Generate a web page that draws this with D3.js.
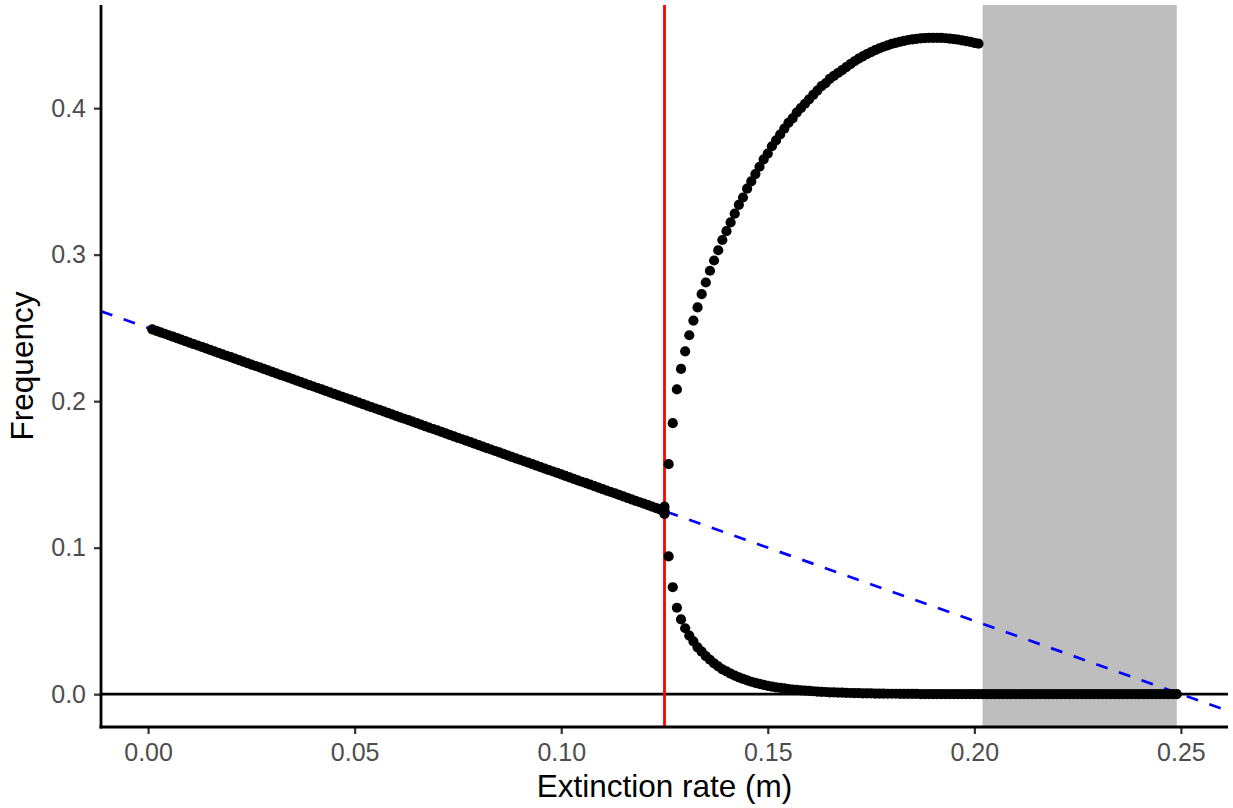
<!DOCTYPE html>
<html>
<head>
<meta charset="utf-8">
<script src="https://cdn.jsdelivr.net/npm/d3@7"></script>
<style>
  html, body { margin: 0; padding: 0; background: #ffffff; }
  svg { display: block; }
</style>
</head>
<body>
<svg id="chart" width="1233" height="808"></svg>
<script>
// ---------------- data ----------------
const linM = [
0.001,0.002,0.003,0.004,0.005,0.006,0.007,0.008,0.009,0.010,
0.011,0.012,0.013,0.014,0.015,0.016,0.017,0.018,0.019,0.020,
0.021,0.022,0.023,0.024,0.025,0.026,0.027,0.028,0.029,0.030,
0.031,0.032,0.033,0.034,0.035,0.036,0.037,0.038,0.039,0.040,
0.041,0.042,0.043,0.044,0.045,0.046,0.047,0.048,0.049,0.050,
0.051,0.052,0.053,0.054,0.055,0.056,0.057,0.058,0.059,0.060,
0.061,0.062,0.063,0.064,0.065,0.066,0.067,0.068,0.069,0.070,
0.071,0.072,0.073,0.074,0.075,0.076,0.077,0.078,0.079,0.080,
0.081,0.082,0.083,0.084,0.085,0.086,0.087,0.088,0.089,0.090,
0.091,0.092,0.093,0.094,0.095,0.096,0.097,0.098,0.099,0.100,
0.101,0.102,0.103,0.104,0.105,0.106,0.107,0.108,0.109,0.110,
0.111,0.112,0.113,0.114,0.115,0.116,0.117,0.118,0.119,0.120,
0.121,0.122,0.123,0.124,0.125];
const linFreq = [
0.249,0.248,0.247,0.246,0.245,0.244,0.243,0.242,0.241,0.240,
0.239,0.238,0.237,0.236,0.235,0.234,0.233,0.232,0.231,0.230,
0.229,0.228,0.227,0.226,0.225,0.224,0.223,0.222,0.221,0.220,
0.219,0.218,0.217,0.216,0.215,0.214,0.213,0.212,0.211,0.210,
0.209,0.208,0.207,0.206,0.205,0.204,0.203,0.202,0.201,0.200,
0.199,0.198,0.197,0.196,0.195,0.194,0.193,0.192,0.191,0.190,
0.189,0.188,0.187,0.186,0.185,0.184,0.183,0.182,0.181,0.180,
0.179,0.178,0.177,0.176,0.175,0.174,0.173,0.172,0.171,0.170,
0.169,0.168,0.167,0.166,0.165,0.164,0.163,0.162,0.161,0.160,
0.159,0.158,0.157,0.156,0.155,0.154,0.153,0.152,0.151,0.150,
0.149,0.148,0.147,0.146,0.145,0.144,0.143,0.142,0.141,0.140,
0.139,0.138,0.137,0.136,0.135,0.134,0.133,0.132,0.131,0.130,
0.129,0.128,0.127,0.126,0.125];

const upperM = [
0.125,
0.126,0.127,0.128,0.129,0.130,0.131,0.132,0.133,0.134,0.135,
0.136,0.137,0.138,0.139,0.140,0.141,0.142,0.143,0.144,0.145,
0.146,0.147,0.148,0.149,0.150,0.151,0.152,0.153,0.154,0.155,
0.156,0.157,0.158,0.159,0.160,0.161,0.162,0.163,0.164,0.165,
0.166,0.167,0.168,0.169,0.170,0.171,0.172,0.173,0.174,0.175,
0.176,0.177,0.178,0.179,0.180,0.181,0.182,0.183,0.184,0.185,
0.186,0.187,0.188,0.189,0.190,0.191,0.192,0.193,0.194,0.195,
0.196,0.197,0.198,0.199,0.200,0.201];
const upperFreq = [
0.128,
0.157,0.185,0.208,0.222,0.234,0.245,0.255,0.264,0.273,0.281,
0.289,0.296,0.303,0.310,0.316,0.322,0.328,0.334,0.339,0.345,
0.350,0.355,0.360,0.365,0.369,0.374,0.378,0.382,0.386,0.390,
0.393,0.397,0.400,0.403,0.406,0.409,0.412,0.415,0.417,0.420,
0.422,0.424,0.426,0.428,0.430,0.432,0.4338,0.4354,0.4369,0.4383,
0.4396,0.4408,0.4419,0.4429,0.4438,0.4446,0.4453,0.4459,0.4465,0.4469,
0.4473,0.4476,0.4478,0.448,0.448,0.448,0.4479,0.4477,0.4474,0.4471,
0.4467,0.4462,0.4457,0.4452,0.4446,0.444];

const lowerM = [
0.125,
0.126,0.127,0.128,0.129,0.130,0.131,0.132,0.133,0.134,0.135,
0.136,0.137,0.138,0.139,0.140,0.141,0.142,0.143,0.144,0.145,
0.146,0.147,0.148,0.149,0.150,0.151,0.152,0.153,0.154,0.155,
0.156,0.157,0.158,0.159,0.160,0.161,0.162,0.163,0.164,0.165,
0.166,0.167,0.168,0.169,0.170,0.171,0.172,0.173,0.174,0.175,
0.176,0.177,0.178,0.179,0.180,0.181,0.182,0.183,0.184,0.185,
0.186,0.187,0.188,0.189,0.190,0.191,0.192,0.193,0.194,0.195,
0.196,0.197,0.198,0.199,0.200,
0.201,0.202,0.203,0.204,0.205,0.206,0.207,0.208,0.209,0.210,
0.211,0.212,0.213,0.214,0.215,0.216,0.217,0.218,0.219,0.220,
0.221,0.222,0.223,0.224,0.225,0.226,0.227,0.228,0.229,0.230,
0.231,0.232,0.233,0.234,0.235,0.236,0.237,0.238,0.239,0.240,
0.241,0.242,0.243,0.244,0.245,0.246,0.247,0.248,0.249];
const lowerFreq = [
0.123,
0.094,0.073,0.059,0.051,0.045,0.040,0.036,0.032,0.029,0.026,
0.0235,0.021,0.019,0.017,0.0155,0.014,0.0127,0.0115,0.0104,0.0094,
0.0085,0.0077,0.0070,0.0063,0.0057,0.0052,0.0047,0.0043,0.0039,0.0035,
0.0032,0.0029,0.0026,0.0024,0.0022,0.0020,0.0018,0.0016,0.0015,0.0013,
0.0012,0.0011,0.0010,0.0009,0.0008,0.0007,0.0007,0.0006,0.0005,0.0005,
0.0004,0.0004,0.0004,0.0003,0.0003,0.0003,0.0002,0.0002,0.0002,0.0002,
0.0002,0.0001,0.0001,0.0001,0.0001,0.0001,0.0001,0.0001,0.0001,0.0001,
0.0001,0.0001,0.0001,0.0001,0.0001,
0,0,0,0,0,0,0,0,0,0,
0,0,0,0,0,0,0,0,0,0,
0,0,0,0,0,0,0,0,0,0,
0,0,0,0,0,0,0,0,0,0,
0,0,0,0,0,0,0,0,0];

const threshold = 0.125;            // red vertical line
const shadeRange = [0.202, 0.249];  // grey band
const ablineIntercept = 0.25;       // blue dashed line
const ablineSlope = -1;
const hlineValue = 0;

const xTicks = [0, 0.05, 0.10, 0.15, 0.20, 0.25];
const xTickLabels = ["0.00", "0.05", "0.10", "0.15", "0.20", "0.25"];
const yTicks = [0, 0.1, 0.2, 0.3, 0.4];
const yTickLabels = ["0.0", "0.1", "0.2", "0.3", "0.4"];
const xTitle = "Extinction rate (m)";
const yTitle = "Frequency";

// ---------------- chart ----------------
const svg = d3.select("#chart");
const panel = { left: 101, right: 1228, top: 5, bottom: 727 };
const FONT = "'Liberation Sans', Arial, Helvetica, sans-serif";

const points = [];
linM.forEach((m, i) => points.push({ m, f: linFreq[i] }));
upperM.forEach((m, i) => points.push({ m, f: upperFreq[i] }));
lowerM.forEach((m, i) => points.push({ m, f: lowerFreq[i] }));

const xExt = d3.extent(points, d => d.m);
const yExt = d3.extent(points, d => d.f);
const xPad = (xExt[1] - xExt[0]) * 0.05;
const yPad = (yExt[1] - yExt[0]) * 0.05;

const x = d3.scaleLinear().domain([xExt[0] - xPad, xExt[1] + xPad]).range([panel.left, panel.right]);
const y = d3.scaleLinear().domain([yExt[0] - yPad, yExt[1] + yPad]).range([panel.bottom, panel.top]);

svg.append("defs").append("clipPath").attr("id", "clip")
  .append("rect")
  .attr("x", panel.left).attr("y", panel.top)
  .attr("width", panel.right - panel.left).attr("height", panel.bottom - panel.top);

const plot = svg.append("g").attr("clip-path", "url(#clip)");

// grey band
plot.append("rect")
  .attr("x", x(shadeRange[0]))
  .attr("width", x(shadeRange[1]) - x(shadeRange[0]))
  .attr("y", panel.top)
  .attr("height", panel.bottom - panel.top)
  .attr("fill", "#BEBEBE");

// horizontal zero line
plot.append("line")
  .attr("x1", panel.left).attr("x2", panel.right)
  .attr("y1", y(hlineValue)).attr("y2", y(hlineValue))
  .attr("stroke", "#000").attr("stroke-width", 2.7);

// red vertical line
plot.append("line")
  .attr("x1", x(threshold)).attr("x2", x(threshold))
  .attr("y1", panel.top).attr("y2", panel.bottom)
  .attr("stroke", "#FF0000").attr("stroke-width", 2.8);

// blue dashed abline
const xd = x.domain();
plot.append("line")
  .attr("x1", x(xd[0])).attr("y1", y(ablineIntercept + ablineSlope * xd[0]))
  .attr("x2", x(xd[1])).attr("y2", y(ablineIntercept + ablineSlope * xd[1]))
  .attr("stroke", "#0000FF").attr("stroke-width", 2.7)
  .attr("stroke-dasharray", "12,12");

// points
plot.append("g").selectAll("circle")
  .data(points)
  .join("circle")
  .attr("cx", d => x(d.m))
  .attr("cy", d => y(d.f))
  .attr("r", 5.1)
  .attr("fill", "#000");

// axes
const xAxis = d3.axisBottom(x)
  .tickValues(xTicks)
  .tickFormat((d, i) => xTickLabels[i])
  .tickSizeInner(7).tickSizeOuter(0).tickPadding(9);
const yAxis = d3.axisLeft(y)
  .tickValues(yTicks)
  .tickFormat((d, i) => yTickLabels[i])
  .tickSizeInner(7).tickSizeOuter(0).tickPadding(8);

const gx = svg.append("g").attr("transform", `translate(0,${panel.bottom})`).call(xAxis);
const gy = svg.append("g").attr("transform", `translate(${panel.left},0)`).call(yAxis);

[gx, gy].forEach(g => {
  g.select(".domain").remove();
  g.selectAll(".tick line").attr("stroke", "#333333").attr("stroke-width", 2.2);
  g.selectAll(".tick text")
    .attr("fill", "#4D4D4D")
    .style("font-family", FONT)
    .style("font-size", "25px");
});

// axis lines (full panel extent)
svg.append("line")
  .attr("x1", panel.left - 1.4).attr("x2", panel.right)
  .attr("y1", panel.bottom).attr("y2", panel.bottom)
  .attr("stroke", "#000").attr("stroke-width", 2.8);
svg.append("line")
  .attr("x1", panel.left).attr("x2", panel.left)
  .attr("y1", panel.top).attr("y2", panel.bottom + 1.4)
  .attr("stroke", "#000").attr("stroke-width", 2.8);

// titles
svg.append("text")
  .attr("x", (panel.left + panel.right) / 2)
  .attr("y", 797)
  .attr("text-anchor", "middle")
  .style("font-family", FONT)
  .style("font-size", "31.5px")
  .attr("fill", "#000")
  .text(xTitle);

svg.append("text")
  .attr("transform", `translate(33,${(panel.top + panel.bottom) / 2}) rotate(-90)`)
  .attr("text-anchor", "middle")
  .style("font-family", FONT)
  .style("font-size", "31.5px")
  .attr("fill", "#000")
  .text(yTitle);
</script>
</body>
</html>
